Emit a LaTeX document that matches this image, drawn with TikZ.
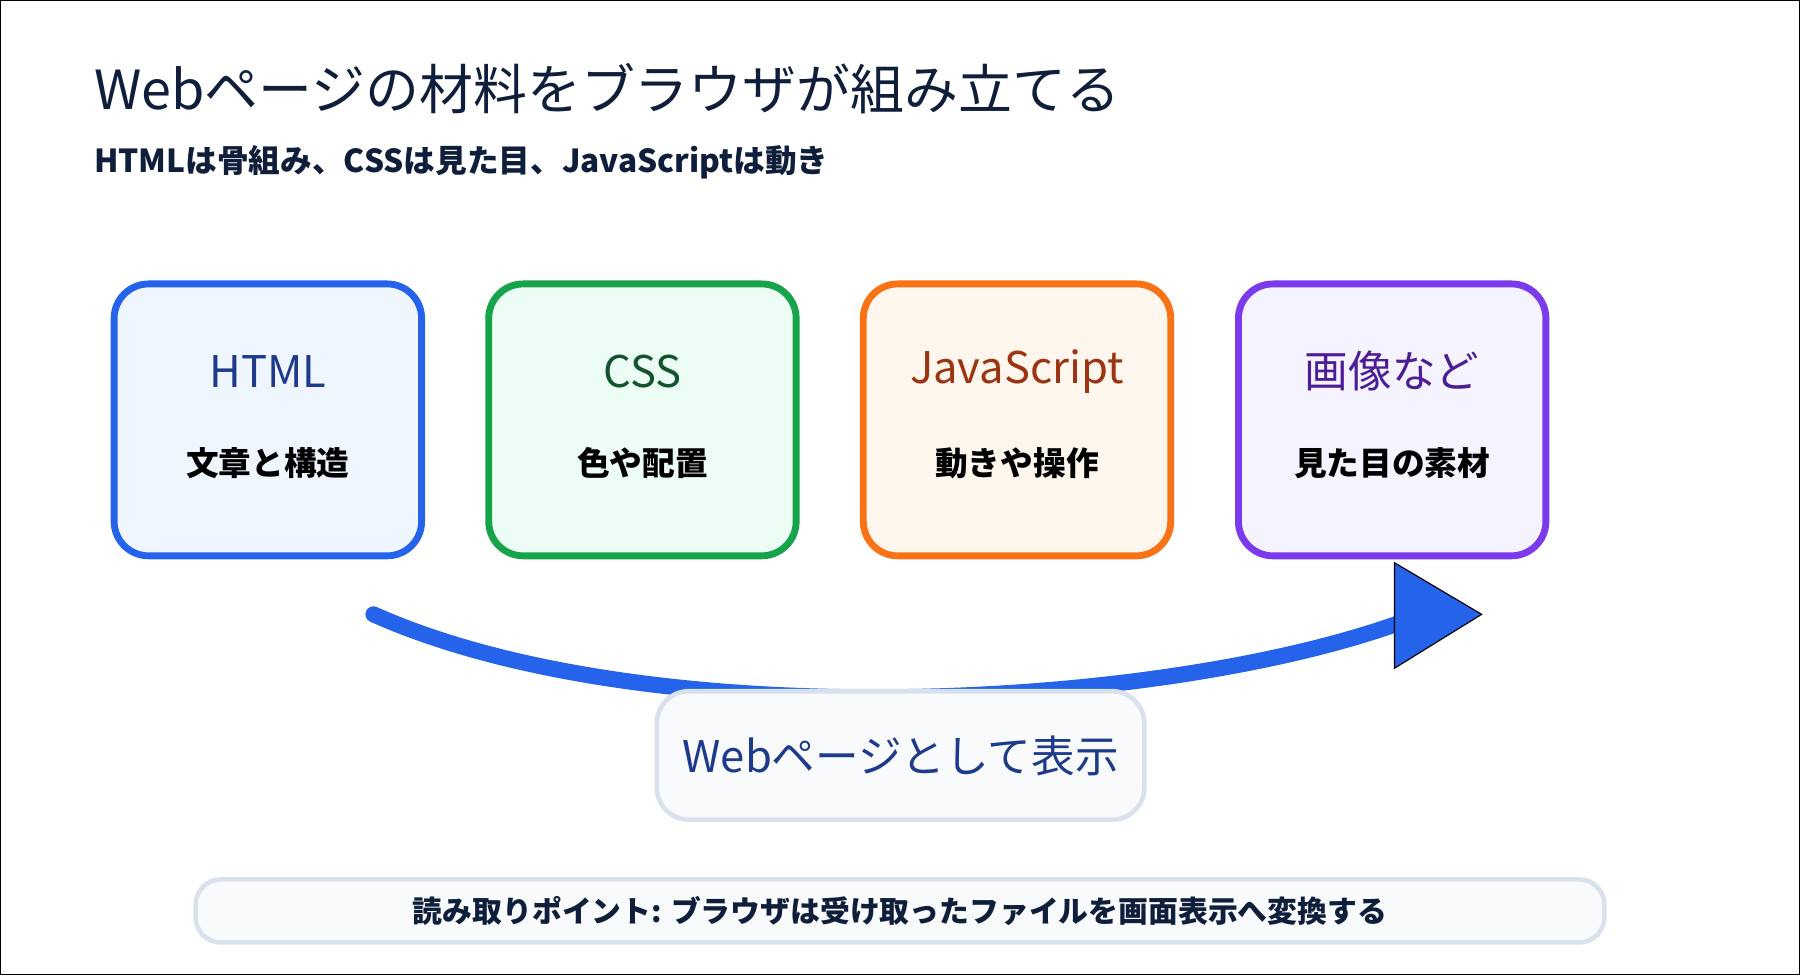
\documentclass[tikz,border=0pt]{standalone}
\usepackage{fontspec}
\setmainfont{Noto Sans CJK JP}
\usetikzlibrary{positioning}

\definecolor{navy}{HTML}{0F1E3A}
\definecolor{htmlc}{HTML}{2563EB}\definecolor{htmlf}{HTML}{EFF6FF}\definecolor{htmlt}{HTML}{1E3A8A}
\definecolor{cssc}{HTML}{16A34A}\definecolor{cssf}{HTML}{ECFDF5}\definecolor{csst}{HTML}{14532D}
\definecolor{jsc}{HTML}{F97316}\definecolor{jsf}{HTML}{FFF7ED}\definecolor{jst}{HTML}{9A3412}
\definecolor{imgc}{HTML}{7C3AED}\definecolor{imgf}{HTML}{F5F3FF}\definecolor{imgt}{HTML}{4C1D95}
\definecolor{panel}{HTML}{F8FAFC}\definecolor{edge}{HTML}{D9E1EC}

\tikzset{
  part/.style={draw=#1c, fill=#1f, line width=6pt, rounded corners=30pt,
               minimum width=268pt, minimum height=237pt},
  partname/.style={text=#1t, font=\fontsize{38}{44}\selectfont},
  partsub/.style={text=black, font=\fontsize{28.5}{32}\selectfont\bfseries},
  soft/.style={draw=edge, fill=panel, line width=4pt, rounded corners=28pt}
}

\begin{document}
\begin{tikzpicture}[x=1pt, y=-1pt]
  \draw[black, line width=1pt] (0,0) rectangle (1568,849);
  \useasboundingbox (0,0) rectangle (1568,849);

  \node[anchor=west, text=navy, font=\fontsize{47}{52}\selectfont] (title) at (78,77) {Webページの材料をブラウザが組み立てる};
  \node[anchor=west, text=navy, font=\fontsize{27.6}{32}\selectfont\bfseries] (sub) at (78,141) {HTMLは骨組み、CSSは見た目、JavaScriptは動き};

  % the four materials
  \node[part=html] (html) at (233,365.5) {};
  \node[part=css]  (css)  at (559.5,365.5) {};
  \node[part=js]   (js)   at (886,365.5) {};
  \node[part=img]  (img)  at (1213,365.5) {};

  \node[partname=html] at (233,323) {HTML};
  \node[partsub] at (233,403) {文章と構造};
  \node[partname=css] at (559.5,323) {CSS};
  \node[partsub] at (559.5,403) {色や配置};
  \node[partname=js] at (886,323) {JavaScript};
  \node[partsub] at (886,403) {動きや操作};
  \node[partname=img] at (1213,323) {画像など};
  \node[partsub] at (1213,403) {見た目の素材};

  % assembling arrow
  \coordinate (from) at (325,535);
  \coordinate (to) at (1218,543);
  \draw[htmlc, line width=14pt, line cap=round] (from) .. controls (560,640) and (1000,620) .. (to);
  \fill[htmlc] (1215,490) -- (1291,535) -- (1215,582) -- cycle;
  \draw[black, line width=1pt] (1215,490) -- (1291,535) -- (1215,582) -- cycle;

  \node[soft, minimum width=425pt, minimum height=112pt, text=htmlt,
        font=\fontsize{38}{44}\selectfont] (page) at (784.5,658) {Webページとして表示};

  \node[soft, rounded corners=22pt, minimum width=1228pt, minimum height=55pt, text=navy,
        font=\fontsize{26}{30}\selectfont\bfseries] (note) at (784,793.5)
        {読み取りポイント: ブラウザは受け取ったファイルを画面表示へ変換する};
\end{tikzpicture}
\end{document}
